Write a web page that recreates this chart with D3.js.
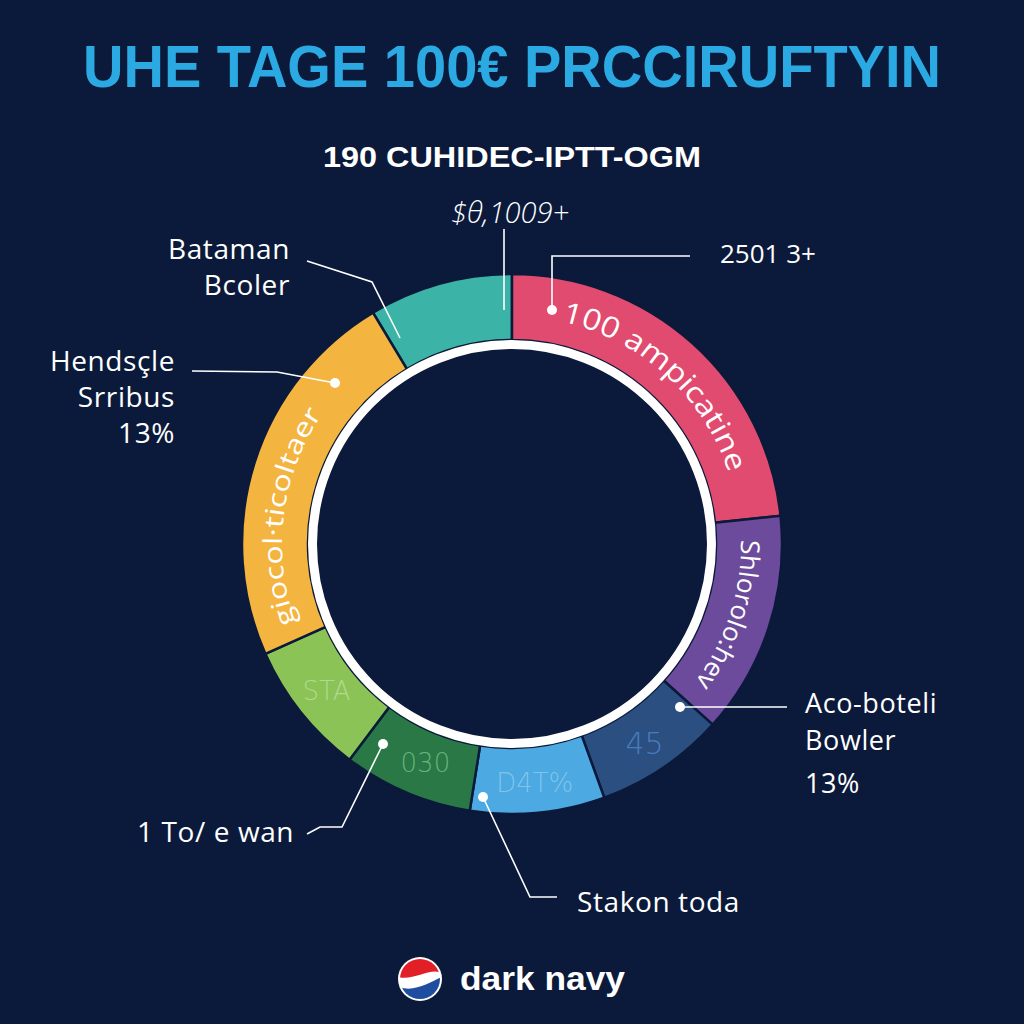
<!DOCTYPE html>
<html>
<head>
<meta charset="utf-8">
<script src="https://cdn.jsdelivr.net/npm/d3@7"></script>
<style>
  html, body { margin: 0; padding: 0; background: #0b1a3a; }
  svg { display: block; }
</style>
</head>
<body>
<script>
// ---- data ----
const segmentNames  = ["teal", "pink", "purple", "darkBlue", "lightBlue", "darkGreen", "lightGreen", "yellow"];
const segmentValues = [31, 84, 48, 28, 29, 28, 29, 83];
const segmentColors = ["#3bb3a6", "#e14b6f", "#6c4b9c", "#2b4f80", "#4ca9e1", "#297845", "#8bc357", "#f4b540"];
const arcTexts      = ["", "100 ampicatine", "Shlorolo:hev", "", "", "", "", "giocol·ticoltaer"];
const innerMarks    = ["", "", "", "45", "D4T%", "030", "STA", ""];
const innerMarkColors = ["", "", "", "#4b82c4", "#86c8ee", "#6cbb84", "#b7dc92", ""];
const titleText    = "UHE TAGE 100€ PRCCIRUFTYIN";
const subtitleText = "190 CUHIDEC-IPTT-OGM";
const topValueLabel = "$θ,1009+";
const rightTopLabel = "2501 3+";
const calloutLabels = [
  ["Bataman", "Bcoler"],
  ["Hendsçle", "Srribus", "13%"],
  ["Aco-boteli", "Bowler", "13%"],
  ["1 To/ e wan"],
  ["Stakon toda"]
];
const brandText = "dark navy";

// ---- setup ----
const W = 1024, H = 1024;
const cx = 512, cy = 544;
const rIn = 204, rOut = 270;
const bg = "#0b1a3a";
const font = "'Open Sans', Lato, sans-serif";

const svg = d3.select("body").append("svg").attr("width", W).attr("height", H);
svg.append("rect").attr("width", W).attr("height", H).attr("fill", bg);

// title
svg.append("text").attr("x", 512).attr("y", 87).attr("text-anchor", "middle")
  .attr("font-family", "'Liberation Sans', Arial, sans-serif").attr("font-weight", 700)
  .attr("font-size", 60).attr("fill", "#2aa9e2")
  .attr("textLength", 858).attr("lengthAdjust", "spacingAndGlyphs")
  .text(titleText);

svg.append("text").attr("x", 512).attr("y", 167).attr("text-anchor", "middle")
  .attr("font-family", "'Liberation Sans', Arial, sans-serif").attr("font-weight", 700)
  .attr("font-size", 30).attr("fill", "#ffffff")
  .attr("textLength", 378).attr("lengthAdjust", "spacingAndGlyphs")
  .text(subtitleText);

// donut
const deg = Math.PI / 180;
const pie = d3.pie().sort(null).value(d => d)
  .startAngle(-31 * deg).endAngle(329 * deg);
const arcs = pie(segmentValues);
const arc = d3.arc().innerRadius(rIn).outerRadius(rOut);

const g = svg.append("g").attr("transform", `translate(${cx},${cy})`);
g.selectAll("path.seg").data(arcs).enter().append("path")
  .attr("class", "seg")
  .attr("d", arc)
  .attr("fill", (d, i) => segmentColors[i])
  .attr("stroke", bg).attr("stroke-width", 2.5);

// white inner ring
g.append("circle").attr("r", rIn - 4.5).attr("fill", bg)
  .attr("stroke", "#ffffff").attr("stroke-width", 9);

// curved texts
function arcPath(r, a0, a1) {
  const x0 = r * Math.sin(a0), y0 = -r * Math.cos(a0);
  const x1 = r * Math.sin(a1), y1 = -r * Math.cos(a1);
  const large = Math.abs(a1 - a0) > Math.PI ? 1 : 0;
  const sweep = a1 > a0 ? 1 : 0;
  return `M${x0},${y0} A${r},${r} 0 ${large} ${sweep} ${x1},${y1}`;
}
const defs = svg.append("defs");
const curved = [
  { i: 1, r: 228, a0: 12.5, a1: 77, size: 29, len: 236 },
  { i: 2, r: 229, a0: 89, a1: 130, size: 26, len: 152 },
  { i: 7, r: 230, a0: 250, a1: 308, size: 26, len: 218 }
];
curved.forEach((c, k) => {
  const id = "cp" + k;
  defs.append("path").attr("id", id)
    .attr("d", arcPath(c.r, c.a0 * deg, c.a1 * deg))
    .attr("transform", `translate(${cx},${cy})`);
  svg.append("text")
    .attr("font-family", font).attr("font-size", c.size).attr("fill", "#ffffff")
    .append("textPath").attr("href", "#" + id)
    .attr("textLength", c.len).attr("lengthAdjust", "spacingAndGlyphs")
    .text(arcTexts[c.i]);
});

// faint inner marks
const markOffsets = { 3: [0, 14], 4: [0, 12], 5: [6, 10], 6: [0, 8] };
arcs.forEach((d, i) => {
  if (!innerMarks[i]) return;
  const c = d3.arc().innerRadius(rIn).outerRadius(rOut).centroid(d);
  const off = markOffsets[i] || [0, 9];
  g.append("text").attr("x", c[0] + off[0]).attr("y", c[1] + off[1])
    .attr("text-anchor", "middle")
    .attr("font-family", "'DejaVu Sans', sans-serif")
    .attr("font-weight", 300)
    .attr("font-size", i === 3 ? 30 : 26).attr("fill", innerMarkColors[i])
    .attr("opacity", 0.9)
    .text(innerMarks[i]);
});

// ---- callouts ----
const line = d3.line();
function leader(points, dotAt) {
  svg.append("path").attr("d", line(points)).attr("fill", "none")
    .attr("stroke", "#ffffff").attr("stroke-width", 1.6);
  if (dotAt) svg.append("circle").attr("cx", dotAt[0]).attr("cy", dotAt[1])
    .attr("r", 5).attr("fill", "#ffffff");
}
function label(lines, x, y0, dy, anchor, size) {
  lines.forEach((t, k) => {
    svg.append("text").attr("x", x).attr("y", y0 + dy.slice(0, k + 1).reduce((a, b) => a + b, 0))
      .attr("text-anchor", anchor).attr("font-family", font)
      .attr("font-size", size).attr("letter-spacing", 0.6).attr("fill", "#ffffff").text(t);
  });
}

// top value
svg.append("text").attr("x", 510).attr("y", 223).attr("text-anchor", "middle")
  .attr("font-family", font).attr("font-style", "italic").attr("font-weight", 300)
  .attr("font-size", 29).attr("fill", "#ffffff").text(topValueLabel);
leader([[504, 229], [504, 310]]);

// right top
svg.append("text").attr("x", 720).attr("y", 263)
  .attr("font-family", font).attr("font-size", 26).attr("fill", "#ffffff").text(rightTopLabel);
leader([[690, 256], [552, 256], [552, 310]], [552, 310]);

// Bataman Bcoler
label(calloutLabels[0], 290, 259, [0, 36], "end", 28);
leader([[307, 261], [372, 282], [400, 338]]);

// Hendsçle Srribus 13%
label(calloutLabels[1], 175, 371, [0, 36, 36], "end", 28);
leader([[192, 371], [277, 372], [335, 383]], [335, 383]);

// Aco-boteli Bowler 13%
label(calloutLabels[2], 805, 713, [0, 37, 43], "start", 27);
leader([[787, 707], [680, 707]], [680, 707]);

// 1 To/ e wan
label(calloutLabels[3], 137, 842, [0], "start", 28);
leader([[307, 834], [320, 827], [342, 827], [383, 744]], [383, 744]);

// Stakon toda
label(calloutLabels[4], 577, 912, [0], "start", 28);
leader([[483, 797], [530, 897], [557, 897]], [483, 797]);

// ---- footer brand ----
const lg = svg.append("g").attr("transform", "translate(420,979)");
defs.append("clipPath").attr("id", "logoClip").append("circle").attr("r", 20);
lg.append("circle").attr("r", 22).attr("fill", "#ffffff");
const lc = lg.append("g").attr("clip-path", "url(#logoClip)");
lc.append("rect").attr("x", -22).attr("y", -22).attr("width", 44).attr("height", 44).attr("fill", "#ffffff");
lc.append("path").attr("d", "M-22,-22 H22 V-6 C10,-12 -6,2 -22,-2 Z").attr("fill", "#e21f26");
lc.append("path").attr("d", "M-22,8 C-4,14 12,2 22,-2 V22 H-22 Z").attr("fill", "#1f4ea1");
svg.append("text").attr("x", 460).attr("y", 990)
  .attr("font-family", "'Liberation Sans', Arial, sans-serif").attr("font-weight", 700)
  .attr("font-size", 34).attr("fill", "#ffffff")
  .attr("textLength", 165).attr("lengthAdjust", "spacingAndGlyphs")
  .text(brandText);
</script>
</body>
</html>
